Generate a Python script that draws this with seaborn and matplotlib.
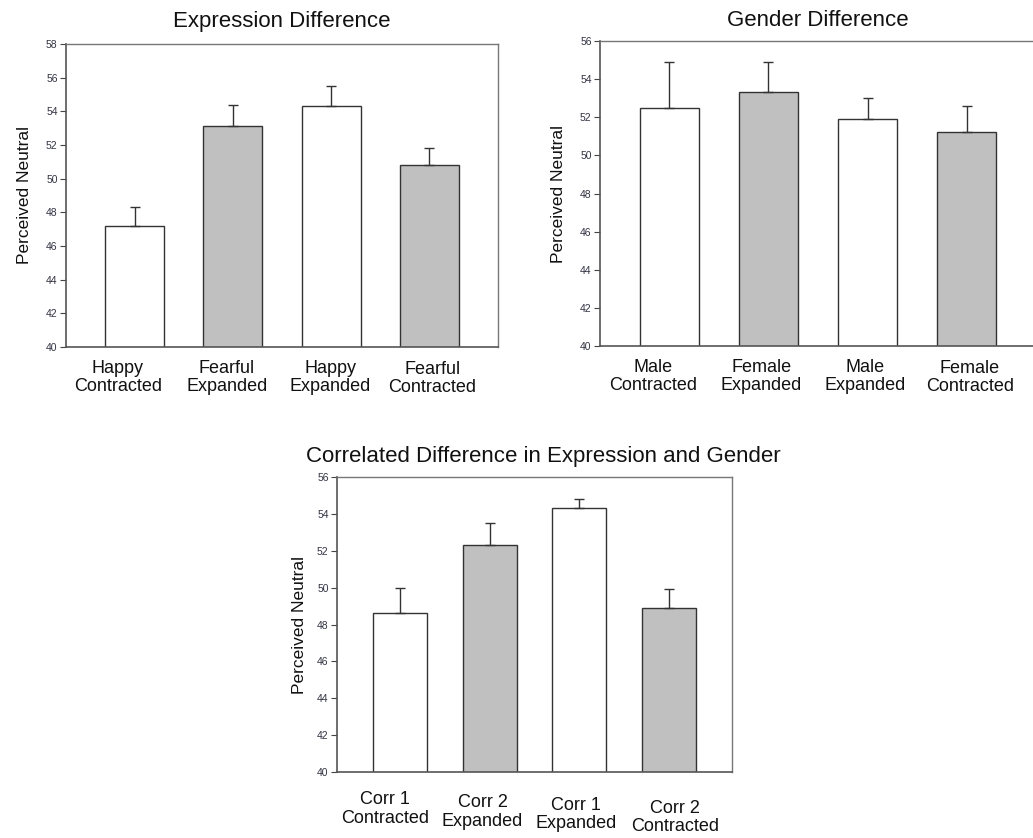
import matplotlib
matplotlib.use("Agg")
import matplotlib.pyplot as plt
import matplotlib.transforms as mtransforms
import seaborn as sns

sns.set_style("white")
plt.rcParams['font.family'] = ['Liberation Sans', 'DejaVu Sans']

# ---- data ----
expr_cats = ["Happy\nContracted", "Fearful\nExpanded", "Happy\nExpanded", "Fearful\nContracted"]
expr_vals = [47.2, 53.1, 54.3, 50.8]
expr_errs = [1.1, 1.3, 1.2, 1.0]

gender_cats = ["Male\nContracted", "Female\nExpanded", "Male\nExpanded", "Female\nContracted"]
gender_vals = [52.5, 53.3, 51.9, 51.2]
gender_errs = [2.4, 1.6, 1.1, 1.4]

corr_cats = ["Corr 1\nContracted", "Corr 2\nExpanded", "Corr 1\nExpanded", "Corr 2\nContracted"]
corr_vals = [48.6, 52.3, 54.3, 48.9]
corr_errs = [1.4, 1.2, 0.5, 1.0]

bar_colors = ["#ffffff", "#c0c0c0", "#ffffff", "#c0c0c0"]

W, H = 1033, 838
fig = plt.figure(figsize=(W / 100, H / 100), dpi=100)


def px_axes(left, top, right, bottom):
    return fig.add_axes([left / W, 1 - bottom / H, (right - left) / W, (bottom - top) / H])


def panel(ax, cats, vals, errs, title, ymax, title_pad, label_pads, label_dx, ylabel_pad,
          title_x=0.5):
    sns.barplot(x=cats, y=vals, hue=cats, palette=bar_colors, legend=False,
                width=0.6, edgecolor="#333333", linewidth=1.0, ax=ax, saturation=1)
    ax.errorbar(range(len(cats)), vals, yerr=[[0] * len(errs), errs], fmt="none",
                ecolor="#333333", elinewidth=1.0, capsize=3.5, capthick=1.0, zorder=1)
    ax.set_ylim(40, ymax)
    ax.set_xlim(-0.7, len(cats) - 0.3)
    ax.set_yticks(range(40, ymax + 1, 2))
    ax.tick_params(axis="y", which="major", direction="out", length=4, width=0.8,
                   color="#444444", labelsize=7.5, labelcolor="#333344", pad=2, left=True)
    ax.tick_params(axis="x", length=0, labelsize=13, labelcolor="#111111")
    for t, p in zip(ax.xaxis.get_major_ticks(), label_pads):
        t.set_pad(p)
    for lab, dx in zip(ax.get_xticklabels(), label_dx):
        lab.set_linespacing(1.1)
        lab.set_transform(lab.get_transform() +
                          mtransforms.ScaledTranslation(dx / 100, 0, fig.dpi_scale_trans))
    ax.set_ylabel("Perceived Neutral", fontsize=12.5, color="#111111", labelpad=ylabel_pad)
    ax.set_xlabel("")
    ax.set_title(title, fontsize=16, color="#111111", pad=title_pad, x=title_x)
    for side in ["left", "bottom"]:
        ax.spines[side].set_color("#555555")
        ax.spines[side].set_linewidth(1.2)
    for side in ["top", "right"]:
        ax.spines[side].set_color("#777777")
        ax.spines[side].set_linewidth(1.0)
        ax.spines[side].set_visible(True)


ax1 = px_axes(66, 44, 498, 347)
panel(ax1, expr_cats, expr_vals, expr_errs, "Expression Difference", 58, 12,
      [9, 9, 9, 10], [-17, -6, -1, 3], 10)

ax2 = px_axes(600, 41, 1036, 346)
panel(ax2, gender_cats, gender_vals, gender_errs, "Gender Difference", 56, 11,
      [9, 9, 9, 10], [-16, -7, -2, 3], 10)

ax3 = px_axes(337, 477, 732, 772)
panel(ax3, corr_cats, corr_vals, corr_errs,
      "Correlated Difference in Expression and Gender", 56, 11,
      [14, 16, 18, 20], [-15, -7, -3, 6], 7, title_x=0.5 + 9 / 395)

fig.savefig("out.png", dpi=100, facecolor="white")
